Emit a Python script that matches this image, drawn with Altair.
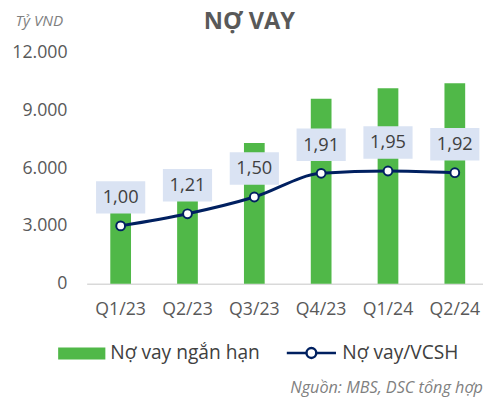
import altair as alt
import pandas as pd

quarters = ["Q1/23", "Q2/23", "Q3/23", "Q4/23", "Q1/24", "Q2/24"]
short_debt = [3750, 4350, 7300, 9600, 10150, 10400]
debt_equity = [1.00, 1.21, 1.50, 1.91, 1.95, 1.92]
y_ticks = [0, 3000, 6000, 9000, 12000]

bar_name = "Nợ vay ngắn hạn"
line_name = "Nợ vay/VCSH"
title_text = "NỢ VAY"
unit_text = "Tỷ VND"
source_text = "Nguồn: MBS, DSC tổng hợp"

FONT = "Open Sans"
GREEN = "#50B848"
NAVY = "#002060"

df = pd.DataFrame({
    "quarter": quarters,
    "debt": short_debt,
    "ratio": debt_equity,
    "s1": [bar_name] * len(quarters),
    "s2": [line_name] * len(quarters),
})

x_enc = alt.X(
    "quarter:N",
    sort=quarters,
    scale=alt.Scale(paddingInner=0.69, paddingOuter=0.31, align=0.57),
    axis=alt.Axis(
        title=None, labelAngle=0, ticks=False, domainColor="#D9D9D9",
        domainWidth=1.5, labelFontSize=18, labelColor="#595959",
        labelPadding=17, labelFont=FONT,
    ),
)

base = alt.Chart(df)

bars = base.mark_bar(color=GREEN).encode(
    x=x_enc,
    y=alt.Y(
        "debt:Q",
        scale=alt.Scale(domain=[0, 12000]),
        axis=alt.Axis(
            values=y_ticks, grid=False, domain=False, ticks=False,
            labelPadding=20, labelFontSize=18, labelColor="#595959",
            labelFont=FONT,
            labelExpr="replace(format(datum.value, ','), ',', '.')",
            title=unit_text, titleAngle=0, titleX=-73, titleY=-32,
            titleAlign="left", titleBaseline="middle", titleFontStyle="italic",
            titleFontWeight="normal", titleFontSize=15.5, titleColor="#7F7F7F",
            titleFont=FONT,
        ),
    ),
    color=alt.Color(
        "s1:N",
        scale=alt.Scale(range=[GREEN]),
        legend=alt.Legend(
            orient="none", legendX=-29, legendY=282, title=None,
            symbolType="M-1,-0.25L1,-0.25L1,0.25L-1,0.25Z", symbolSize=2304,
            symbolStrokeWidth=0, labelFontSize=19.5, labelColor="#404040",
            labelFont=FONT, labelOffset=5, padding=0,
        ),
    ),
)

y2 = alt.Y("ratio:Q", scale=alt.Scale(domain=[0, 4]), axis=None)

line = base.mark_line(strokeWidth=3, interpolate="monotone").encode(
    x=x_enc,
    y=y2,
    stroke=alt.Stroke(
        "s2:N",
        scale=alt.Scale(range=[NAVY]),
        legend=alt.Legend(
            orient="none", legendX=202, legendY=279, title=None,
            symbolType="M-1,0L-0.2,0M0.2,0L1,0M-0.2,0A0.2,0.2,0,1,1,0.2,0A0.2,0.2,0,1,1,-0.2,0Z",
            symbolSize=2500, symbolStrokeWidth=2.5, symbolFillColor="white",
            labelFontSize=19.5, labelColor="#404040", labelFont=FONT,
            labelOffset=5, padding=0,
        ),
    ),
)

points = base.mark_point(
    filled=True, fill="white", stroke=NAVY, strokeWidth=2, size=80, opacity=1
).encode(x=x_enc, y=y2)

boxes = base.mark_point(
    filled=True, color="#DAE3F3", opacity=1, size=2500, yOffset=-29,
    shape="M-1,-0.66L1,-0.66L1,0.66L-1,0.66Z",
).encode(x=x_enc, y=y2)

labels = base.mark_text(
    fontSize=18.5, color="#404040", dy=-29, baseline="middle", font=FONT
).encode(
    x=x_enc,
    y=y2,
    text=alt.Text("label:N"),
).transform_calculate(label="replace(format(datum.ratio, '.2f'), '.', ',')")

source = alt.Chart(pd.DataFrame({"t": [source_text]})).mark_text(
    align="right", baseline="alphabetic", fontStyle="italic", fontSize=16.5,
    color="#7F7F7F", font=FONT,
).encode(x=alt.value(403), y=alt.value(346), text="t:N")

chart = alt.layer(bars, line, points, boxes, labels, source).resolve_scale(
    y="independent", color="independent", stroke="independent"
).properties(
    width=403,
    height=235,
    autosize=alt.AutoSizeParams(type="none"),
    padding={"left": 80, "top": 42, "right": 0, "bottom": 116},
    title=alt.TitleParams(
        title_text, fontSize=24, fontWeight="bold", color="#595959",
        anchor="middle", frame="group", dx=-36, offset=-20, font=FONT,
    ),
).configure_view(stroke=None)

chart.save("out.html", embed_options={"renderer": "svg", "actions": False})
